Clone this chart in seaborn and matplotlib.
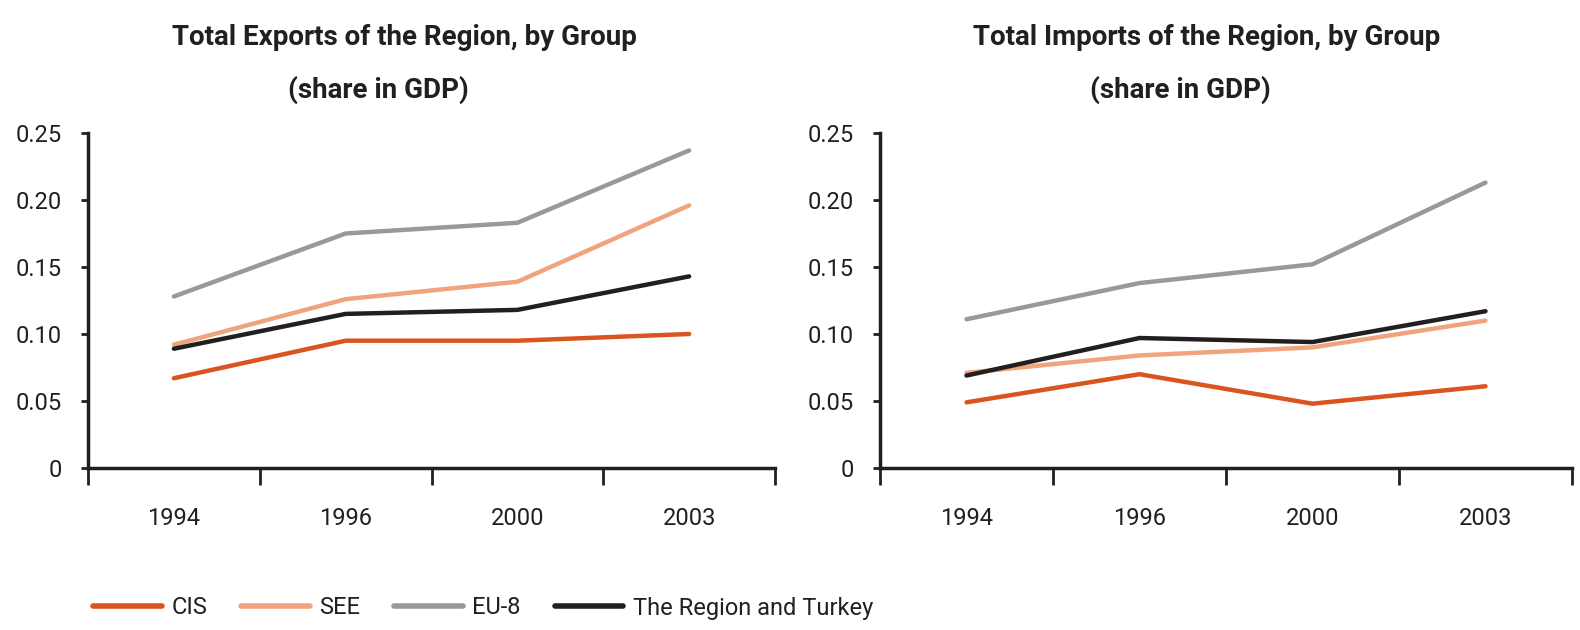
import pandas as pd
import matplotlib
matplotlib.use("Agg")
import matplotlib.pyplot as plt
import seaborn as sns

# values (share in GDP)
years = ["1994", "1996", "2000", "2003"]
groups = ["CIS", "SEE", "EU-8", "The Region and Turkey"]
colors = ["#D9541E", "#F0A47E", "#999999", "#231F20"]

exp_cis = [0.067, 0.095, 0.095, 0.100]
exp_see = [0.092, 0.126, 0.139, 0.196]
exp_eu8 = [0.128, 0.175, 0.183, 0.237]
exp_reg = [0.089, 0.115, 0.118, 0.143]

imp_cis = [0.049, 0.070, 0.048, 0.061]
imp_see = [0.071, 0.084, 0.090, 0.110]
imp_eu8 = [0.111, 0.138, 0.152, 0.213]
imp_reg = [0.069, 0.097, 0.094, 0.117]

ytick_vals = [0, 0.05, 0.10, 0.15, 0.20, 0.25]
ytick_labels = ["0", "0.05", "0.10", "0.15", "0.20", "0.25"]


def long_form(series_list):
    rows = []
    for g, vals in zip(groups, series_list):
        for y, v in zip(years, vals):
            rows.append({"year": y, "group": g, "share": v})
    return pd.DataFrame(rows)


exports_df = long_form([exp_cis, exp_see, exp_eu8, exp_reg])
imports_df = long_form([imp_cis, imp_see, imp_eu8, imp_reg])

sns.set_style("white")
plt.rcParams["font.family"] = ["Liberation Sans Narrow", "Roboto", "DejaVu Sans"]

fig = plt.figure(figsize=(15.8, 6.3), dpi=100)
ax1 = fig.add_axes([88 / 1580, 1 - 468 / 630, 687 / 1580, 335 / 630])
ax2 = fig.add_axes([880 / 1580, 1 - 468 / 630, 692 / 1580, 335 / 630])

palette = dict(zip(groups, colors))
ink = "#231F20"


def draw(ax, df, title, x1, x2):
    sns.lineplot(data=df, x="year", y="share", hue="group", hue_order=groups,
                 palette=palette, linewidth=3.2, ax=ax, legend=False, sort=False)
    ax.set_xlim(-0.5, 3.5)
    ax.set_ylim(0, 0.25)
    ax.set_xlabel("")
    ax.set_ylabel("")
    ax.set_yticks(ytick_vals)
    ax.set_yticklabels(ytick_labels, fontsize=17, color=ink)
    ax.set_xticks(range(len(years)))
    ax.set_xticklabels(years, fontsize=17, color=ink)
    ax.set_xticks([-0.5, 0.5, 1.5, 2.5, 3.5], minor=True)
    ax.tick_params(axis="x", which="major", length=0, pad=28)
    ax.tick_params(axis="x", which="minor", length=12, width=2, color=ink, direction="out", bottom=True)
    ax.tick_params(axis="y", length=5, width=2, color=ink, direction="out", pad=14, left=True)
    for side in ["top", "right"]:
        ax.spines[side].set_visible(False)
    for side in ["left", "bottom"]:
        ax.spines[side].set_linewidth(2.5)
        ax.spines[side].set_color(ink)
    # two title lines, second one sits a bit to the left like the original
    ax.text(x1, 1.285, title, transform=ax.transAxes, ha="center", va="center",
            fontsize=20, fontweight="bold", color=ink)
    ax.text(x2, 1.13, "(share in GDP)", transform=ax.transAxes, ha="center", va="center",
            fontsize=20, fontweight="bold", color=ink)


draw(ax1, exports_df, "Total Exports of the Region, by Group", 0.460, 0.422)
draw(ax2, imports_df, "Total Imports of the Region, by Group", 0.472, 0.434)

handles = [plt.Line2D([], [], color=c, linewidth=4) for c in colors]
fig.legend(handles, groups, loc="center left", bbox_to_anchor=(0.059, 1 - 608 / 630), ncol=4,
           frameon=False, fontsize=17, handlelength=2.9, columnspacing=1.45, handletextpad=0.4,
           labelcolor=ink, borderaxespad=0, borderpad=0)

fig.savefig("out.png", dpi=100)
